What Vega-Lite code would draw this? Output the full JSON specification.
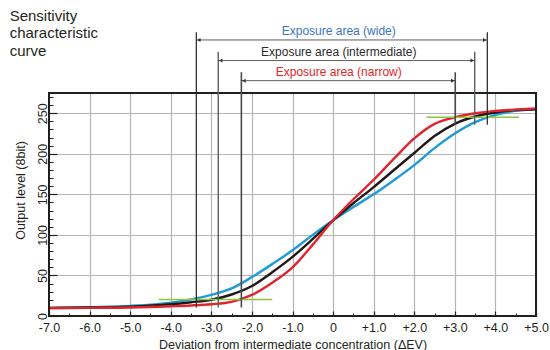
{
  "$schema": "https://vega.github.io/schema/vega-lite/v6.json",
  "width": 487,
  "height": 223,
  "autosize": "none",
  "padding": {"left": 49, "top": 93, "right": 14, "bottom": 34},
  "background": "white",
  "config": {
    "view": {"stroke": null},
    "font": "Liberation Sans"
  },
  "datasets": {
    "curves": [
      {"x": -7, "y": 10, "series": "wide"}, {"x": -6, "y": 11, "series": "wide"}, {"x": -5, "y": 12.5, "series": "wide"}, {"x": -4, "y": 16.5, "series": "wide"}, {"x": -3.5, "y": 20.5, "series": "wide"}, {"x": -3, "y": 26, "series": "wide"}, {"x": -2.5, "y": 34, "series": "wide"}, {"x": -2, "y": 48, "series": "wide"}, {"x": -1.5, "y": 64, "series": "wide"}, {"x": -1, "y": 81, "series": "wide"}, {"x": -0.5, "y": 100, "series": "wide"}, {"x": 0, "y": 118, "series": "wide"}, {"x": 0.5, "y": 134.5, "series": "wide"}, {"x": 1, "y": 150, "series": "wide"}, {"x": 1.5, "y": 167.5, "series": "wide"}, {"x": 2, "y": 186, "series": "wide"}, {"x": 2.5, "y": 207, "series": "wide"}, {"x": 3, "y": 225, "series": "wide"}, {"x": 3.5, "y": 239, "series": "wide"}, {"x": 4, "y": 248, "series": "wide"}, {"x": 4.5, "y": 253, "series": "wide"}, {"x": 5, "y": 255, "series": "wide"},
      {"x": -7, "y": 10, "series": "intermediate"}, {"x": -6, "y": 10.5, "series": "intermediate"}, {"x": -5, "y": 11.5, "series": "intermediate"}, {"x": -4, "y": 14.5, "series": "intermediate"}, {"x": -3.5, "y": 17, "series": "intermediate"}, {"x": -3, "y": 20, "series": "intermediate"}, {"x": -2.5, "y": 26.5, "series": "intermediate"}, {"x": -2, "y": 37, "series": "intermediate"}, {"x": -1.5, "y": 54, "series": "intermediate"}, {"x": -1, "y": 73, "series": "intermediate"}, {"x": -0.5, "y": 95, "series": "intermediate"}, {"x": 0, "y": 118, "series": "intermediate"}, {"x": 0.5, "y": 139, "series": "intermediate"}, {"x": 1, "y": 159, "series": "intermediate"}, {"x": 1.5, "y": 180, "series": "intermediate"}, {"x": 2, "y": 201, "series": "intermediate"}, {"x": 2.5, "y": 222, "series": "intermediate"}, {"x": 3, "y": 237, "series": "intermediate"}, {"x": 3.5, "y": 246, "series": "intermediate"}, {"x": 4, "y": 251, "series": "intermediate"}, {"x": 4.5, "y": 254, "series": "intermediate"}, {"x": 5, "y": 255, "series": "intermediate"},
      {"x": -7, "y": 9.5, "series": "narrow"}, {"x": -6, "y": 10, "series": "narrow"}, {"x": -5, "y": 10.5, "series": "narrow"}, {"x": -4, "y": 12, "series": "narrow"}, {"x": -3.5, "y": 13, "series": "narrow"}, {"x": -3, "y": 14.5, "series": "narrow"}, {"x": -2.5, "y": 17.5, "series": "narrow"}, {"x": -2, "y": 26, "series": "narrow"}, {"x": -1.5, "y": 41, "series": "narrow"}, {"x": -1, "y": 60, "series": "narrow"}, {"x": -0.5, "y": 88, "series": "narrow"}, {"x": 0, "y": 118, "series": "narrow"}, {"x": 0.5, "y": 144, "series": "narrow"}, {"x": 1, "y": 168, "series": "narrow"}, {"x": 1.5, "y": 194, "series": "narrow"}, {"x": 2, "y": 219, "series": "narrow"}, {"x": 2.5, "y": 237, "series": "narrow"}, {"x": 3, "y": 245, "series": "narrow"}, {"x": 3.5, "y": 250, "series": "narrow"}, {"x": 4, "y": 253, "series": "narrow"}, {"x": 4.5, "y": 254.5, "series": "narrow"}, {"x": 5, "y": 256, "series": "narrow"}
    ],
    "frame": [
      {"x1": -7, "x2": 5, "y1": 0, "y2": 275}
    ],
    "green": [
      {"x1": -4.3, "x2": -1.5, "y": 20.5},
      {"x1": 2.3, "x2": 4.58, "y": 245}
    ],
    "vlines": [
      {"x": -3.37, "y1": 10.5, "y2": 350, "series": "wide"},
      {"x": 3.8, "y1": 236, "y2": 350, "series": "wide"},
      {"x": -2.83, "y1": 10.5, "y2": 326, "series": "intermediate"},
      {"x": 3.49, "y1": 236, "y2": 326, "series": "intermediate"},
      {"x": -2.26, "y1": 10.5, "y2": 300.6, "series": "narrow"},
      {"x": 3.01, "y1": 236, "y2": 300.6, "series": "narrow"}
    ],
    "arrows": [
      {"x1": -3.37, "x2": 3.8, "y": 340.4, "series": "wide"},
      {"x1": -2.83, "x2": 3.49, "y": 315, "series": "intermediate"},
      {"x1": -2.26, "x2": 3.01, "y": 290.2, "series": "narrow"}
    ],
    "labels": [
      {"x": 0.14, "y": 351.5, "text": "Exposure area (wide)", "series": "wide"},
      {"x": 0.14, "y": 325.6, "text": "Exposure area (intermediate)", "series": "intermediate"},
      {"x": 0.14, "y": 301, "text": "Exposure area (narrow)", "series": "narrow"}
    ],
    "heading": [
      {"x": -7.97, "y": 378.7, "text": "Sensitivity\ncharacteristic\ncurve"}
    ]
  },
  "layer": [
    {
      "data": {"name": "curves"},
      "mark": {"type": "line", "strokeWidth": 2.4, "interpolate": "monotone", "clip": false},
      "encoding": {
        "x": {
          "field": "x", "type": "quantitative",
          "scale": {"domain": [-7, 5], "nice": false, "zero": false},
          "axis": {
            "orient": "bottom",
            "values": [-7, -6, -5, -4, -3, -2, -1, 0, 1, 2, 3, 4, 5],
            "labelExpr": "datum.value == 0 ? '0' : (datum.value > 0 ? '+' : '-') + format(abs(datum.value), '.1f')",
            "grid": true, "gridColor": "#b4b4b4", "gridWidth": 1.2,
            "domain": false,
            "ticks": true, "tickSize": -5, "tickColor": "#231f20", "tickWidth": 1.2,
            "labelFontSize": 12.5, "labelColor": "#231f20", "labelPadding": 10, "labelBaseline": "top",
            "labelFlush": false, "labelOverlap": false,
            "title": "Deviation from intermediate concentration (ΔEV)",
            "titleFontSize": 12.5, "titleFontWeight": "normal", "titleColor": "#231f20",
            "titleY": 28, "titleBaseline": "middle"
          }
        },
        "y": {
          "field": "y", "type": "quantitative",
          "scale": {"domain": [0, 275], "nice": false, "zero": false},
          "axis": {
            "orient": "left",
            "values": [0, 50, 100, 150, 200, 250],
            "grid": true, "gridColor": "#b4b4b4", "gridWidth": 1.2,
            "domain": false,
            "ticks": true, "tickSize": -8, "tickColor": "#231f20", "tickWidth": 1.2,
            "labelFontSize": 12.5, "labelColor": "#231f20", "labelAngle": 270,
            "labelAlign": "center", "labelBaseline": "alphabetic", "labelPadding": 11,
            "labelFlush": false, "labelOverlap": false,
            "title": "Output level (8bit)",
            "titleFontSize": 12.5, "titleFontWeight": "normal", "titleColor": "#231f20",
            "titleAngle": 270, "titleAlign": "center", "titleBaseline": "middle",
            "titleX": -29, "titleY": 97
          }
        },
        "color": {
          "field": "series", "type": "nominal",
          "scale": {"domain": ["wide", "intermediate", "narrow"], "range": ["#1f9bd7", "#231815", "#e1242b"]},
          "legend": null
        }
      }
    },
    {
      "data": {"name": "green"},
      "mark": {"type": "rule", "color": "#8cc63f", "strokeWidth": 1.5, "clip": false},
      "encoding": {
        "x": {
          "field": "x1", "type": "quantitative",
          "scale": {"domain": [-7, 5], "nice": false, "zero": false},
          "axis": {
            "orient": "bottom",
            "values": [-6.5, -5.5, -4.5, -3.5, -2.5, -1.5, -0.5, 0.5, 1.5, 2.5, 3.5, 4.5],
            "grid": false, "domain": false, "labels": false, "title": null,
            "ticks": true, "tickSize": -3, "tickColor": "#231f20", "tickWidth": 1
          }
        },
        "x2": {"field": "x2"},
        "y": {
          "field": "y", "type": "quantitative",
          "scale": {"domain": [0, 275], "nice": false, "zero": false},
          "axis": {
            "orient": "left",
            "values": [10, 20, 30, 40, 60, 70, 80, 90, 110, 120, 130, 140, 160, 170, 180, 190, 210, 220, 230, 240, 260, 270],
            "grid": false, "domain": false, "labels": false, "title": null,
            "ticks": true, "tickSize": -4, "tickColor": "#231f20", "tickWidth": 1
          }
        }
      }
    },
    {
      "data": {"name": "frame"},
      "mark": {"type": "rect", "fill": "transparent", "stroke": "#231f20", "strokeWidth": 2, "clip": false},
      "encoding": {
        "x": {"field": "x1", "type": "quantitative", "scale": {"domain": [-7, 5], "nice": false, "zero": false}, "axis": null},
        "x2": {"field": "x2"},
        "y": {"field": "y1", "type": "quantitative", "scale": {"domain": [0, 275], "nice": false, "zero": false}, "axis": null},
        "y2": {"field": "y2"}
      }
    },
    {
      "data": {"name": "vlines"},
      "mark": {"type": "rule", "clip": false},
      "encoding": {
        "x": {"field": "x", "type": "quantitative", "scale": {"domain": [-7, 5], "nice": false, "zero": false}, "axis": null},
        "y": {"field": "y1", "type": "quantitative", "scale": {"domain": [0, 275], "nice": false, "zero": false}, "axis": null},
        "y2": {"field": "y2"},
        "stroke": {
          "field": "series", "type": "nominal",
          "scale": {"domain": ["wide", "intermediate", "narrow"], "range": ["#231f20", "#5e5e5e", "#4a4a4a"]},
          "legend": null
        },
        "strokeWidth": {
          "field": "series", "type": "nominal",
          "scale": {"domain": ["wide", "intermediate", "narrow"], "range": [1.2, 1.6, 1.3]},
          "legend": null
        }
      }
    },
    {
      "data": {"name": "arrows"},
      "mark": {"type": "rule", "color": "#333333", "strokeWidth": 0.8, "clip": false},
      "encoding": {
        "x": {"field": "x1", "type": "quantitative", "scale": {"domain": [-7, 5], "nice": false, "zero": false}, "axis": null},
        "x2": {"field": "x2"},
        "y": {"field": "y", "type": "quantitative", "scale": {"domain": [0, 275], "nice": false, "zero": false}, "axis": null}
      }
    },
    {
      "data": {"name": "arrows"},
      "mark": {"type": "point", "shape": "triangle-left", "filled": true, "size": 16, "color": "#333333", "xOffset": 2.5, "opacity": 1, "clip": false},
      "encoding": {
        "x": {"field": "x1", "type": "quantitative", "scale": {"domain": [-7, 5], "nice": false, "zero": false}, "axis": null},
        "y": {"field": "y", "type": "quantitative", "scale": {"domain": [0, 275], "nice": false, "zero": false}, "axis": null}
      }
    },
    {
      "data": {"name": "arrows"},
      "mark": {"type": "point", "shape": "triangle-right", "filled": true, "size": 16, "color": "#333333", "xOffset": -2.5, "opacity": 1, "clip": false},
      "encoding": {
        "x": {"field": "x2", "type": "quantitative", "scale": {"domain": [-7, 5], "nice": false, "zero": false}, "axis": null},
        "y": {"field": "y", "type": "quantitative", "scale": {"domain": [0, 275], "nice": false, "zero": false}, "axis": null}
      }
    },
    {
      "data": {"name": "labels"},
      "mark": {"type": "text", "fontSize": 12, "font": "Liberation Sans", "align": "center", "baseline": "middle", "clip": false},
      "encoding": {
        "x": {"field": "x", "type": "quantitative", "scale": {"domain": [-7, 5], "nice": false, "zero": false}, "axis": null},
        "y": {"field": "y", "type": "quantitative", "scale": {"domain": [0, 275], "nice": false, "zero": false}, "axis": null},
        "text": {"field": "text"},
        "fill": {
          "field": "series", "type": "nominal",
          "scale": {"domain": ["wide", "intermediate", "narrow"], "range": ["#3b74c6", "#2b2b2b", "#e3242b"]},
          "legend": null
        }
      }
    },
    {
      "data": {"name": "heading"},
      "mark": {"type": "text", "fontSize": 15, "font": "Liberation Sans", "align": "left", "baseline": "top", "lineBreak": "\n", "lineHeight": 17.5, "color": "#231f20", "clip": false},
      "encoding": {
        "x": {"field": "x", "type": "quantitative", "scale": {"domain": [-7, 5], "nice": false, "zero": false}, "axis": null},
        "y": {"field": "y", "type": "quantitative", "scale": {"domain": [0, 275], "nice": false, "zero": false}, "axis": null},
        "text": {"field": "text"}
      }
    }
  ],
  "resolve": {"axis": {"x": "independent", "y": "independent"}}
}
